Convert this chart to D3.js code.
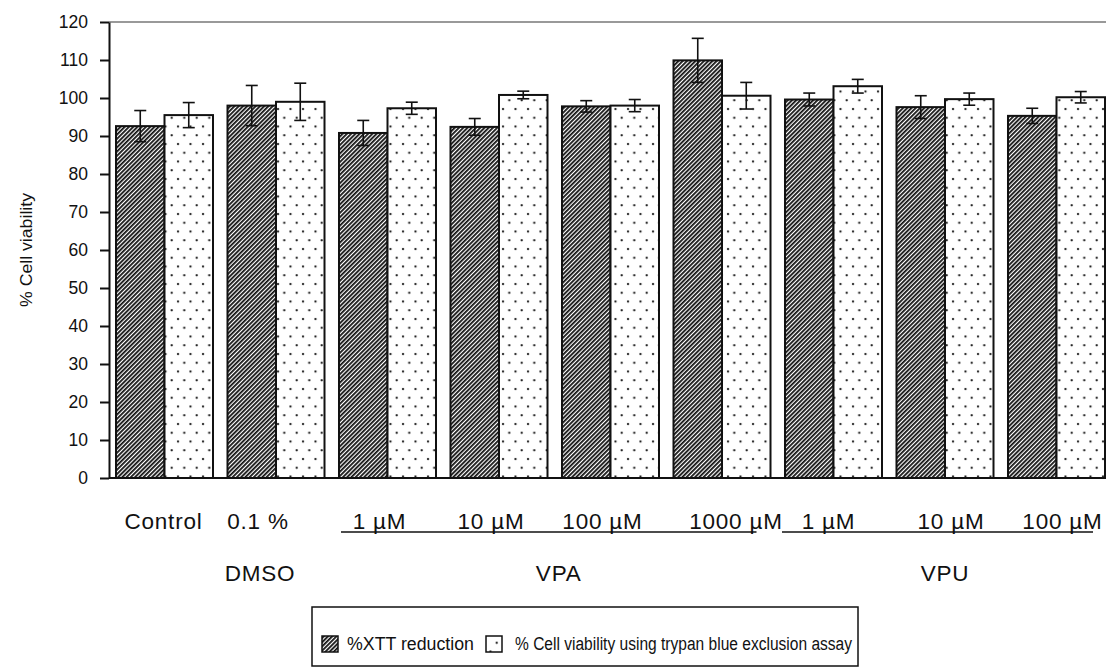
<!DOCTYPE html>
<html>
<head>
<meta charset="utf-8">
<script src="https://cdn.jsdelivr.net/npm/d3@7"></script>
<style>
  body { margin: 0; background: #fff; }
  text { font-family: "Liberation Sans", Arial, sans-serif; fill: #111; }
</style>
</head>
<body>
<svg id="chart" width="1106" height="668"></svg>
<script>
// values
var groups = ["Control", "0.1 %", "1 µM", "10 µM", "100 µM", "1000 µM", "1 µM", "10 µM", "100 µM"];
var xttMean = [92.6, 98.0, 90.8, 92.4, 97.8, 109.9, 99.6, 97.6, 95.3];
var xttErr = [4.1, 5.3, 3.3, 2.2, 1.5, 5.8, 1.7, 3.0, 2.0];
var trypanMean = [95.5, 99.0, 97.3, 100.8, 98.0, 100.6, 103.1, 99.7, 100.2];
var trypanErr = [3.3, 4.9, 1.6, 1.0, 1.6, 3.5, 1.8, 1.6, 1.5];
var yTicks = [0, 10, 20, 30, 40, 50, 60, 70, 80, 90, 100, 110, 120];
var treatments = ["DMSO", "VPA", "VPU"];
var treatmentFrom = [1, 2, 6];
var treatmentTo = [1, 5, 8];
var seriesNames = ["%XTT reduction", "% Cell viability using trypan blue exclusion assay"];

// small nudges so text sits where the original typesetter put it
var labelNudge = [-1, -18, -8, -8, -8, 14, -5, 6, 6];
var treatNudge = [-16, 4, 0];
var lineStart = [0, 2, -3], lineEnd = [0, -14, -12];

var svg = d3.select("#chart");
var defs = svg.append("defs");

// hatch fill
defs.append("pattern")
    .attr("id", "hatch")
    .attr("patternUnits", "userSpaceOnUse")
    .attr("width", 3).attr("height", 3)
    .attr("patternTransform", "rotate(45)")
  .append("rect")
    .attr("x", 0).attr("y", 0)
    .attr("width", 1.8).attr("height", 3)
    .attr("fill", "#111");

// dot fill
var dots = defs.append("pattern")
    .attr("id", "dots")
    .attr("patternUnits", "userSpaceOnUse")
    .attr("width", 12.5).attr("height", 17.5);
dots.append("rect").attr("width", 12.5).attr("height", 17.5).attr("fill", "#fff");
dots.append("circle").attr("cx", 3).attr("cy", 4).attr("r", 1.15).attr("fill", "#111");
dots.append("circle").attr("cx", 9.25).attr("cy", 12.75).attr("r", 1.15).attr("fill", "#111");

var x = d3.scaleBand()
    .domain(d3.range(groups.length))
    .range([116, 1105])
    .paddingInner(0.13)
    .paddingOuter(0);

var xs = d3.scaleBand()
    .domain([0, 1])
    .range([0, x.bandwidth()]);

var y = d3.scaleLinear()
    .domain([0, 120])
    .range([478, 22]);

// top frame line (grey)
svg.append("line")
    .attr("x1", 109).attr("x2", 1106)
    .attr("y1", y(120)).attr("y2", y(120))
    .attr("stroke", "#777").attr("stroke-width", 1.5);

// y axis
var yAxis = svg.append("g")
    .attr("transform", "translate(109,0)")
    .call(d3.axisLeft(y).tickValues(yTicks).tickSize(9).tickSizeOuter(0).tickPadding(12));
yAxis.select(".domain").attr("stroke", "#111").attr("stroke-width", 2);
yAxis.selectAll(".tick line").attr("stroke", "#111").attr("stroke-width", 2);
yAxis.selectAll(".tick text")
    .style("font-family", "'Liberation Sans', Arial, sans-serif")
    .style("font-size", "17.5px")
    .attr("fill", "#111");

// baseline
svg.append("line")
    .attr("x1", 109).attr("x2", 1106)
    .attr("y1", y(0)).attr("y2", y(0))
    .attr("stroke", "#111").attr("stroke-width", 2);

svg.append("text")
    .attr("transform", "translate(28," + y(60) + ") rotate(-90)")
    .attr("text-anchor", "middle")
    .attr("dominant-baseline", "middle")
    .attr("textLength", 114)
    .attr("lengthAdjust", "spacingAndGlyphs")
    .style("font-size", "17px")
    .text("% Cell viability");

// bars
var series = [
  { mean: xttMean, err: xttErr, fill: "url(#hatch)" },
  { mean: trypanMean, err: trypanErr, fill: "url(#dots)" }
];

series.forEach(function(s, si) {
  var g = svg.append("g");
  g.selectAll("rect")
      .data(s.mean)
    .enter().append("rect")
      .attr("x", function(d, i) { return x(i) + xs(si); })
      .attr("y", function(d) { return y(d); })
      .attr("width", xs.bandwidth())
      .attr("height", function(d) { return y(0) - y(d); })
      .attr("fill", s.fill)
      .attr("stroke", "#111")
      .attr("stroke-width", 2);
});

// error bars on top
series.forEach(function(s, si) {
  var eb = svg.append("g").attr("stroke", "#111").attr("stroke-width", 1.6);
  s.mean.forEach(function(m, i) {
    var cx = x(i) + xs(si) + xs.bandwidth() / 2;
    var top = y(m + s.err[i]), bot = y(m - s.err[i]);
    eb.append("line").attr("x1", cx).attr("x2", cx).attr("y1", top).attr("y2", bot);
    eb.append("line").attr("x1", cx - 6).attr("x2", cx + 6).attr("y1", top).attr("y2", top);
    eb.append("line").attr("x1", cx - 6).attr("x2", cx + 6).attr("y1", bot).attr("y2", bot);
  });
});

// category labels
svg.append("g").selectAll("text")
    .data(groups)
  .enter().append("text")
    .attr("x", function(d, i) { return x(i) + x.bandwidth() / 2 + labelNudge[i]; })
    .attr("y", 529)
    .attr("text-anchor", "middle")
    .style("font-size", "22.5px")
    .style("letter-spacing", "0.8px")
    .text(function(d) { return d; });

// treatment underlines and names
treatments.forEach(function(t, i) {
  var a = x(treatmentFrom[i]), b = x(treatmentTo[i]) + x.bandwidth();
  if (treatmentTo[i] > treatmentFrom[i]) {
    svg.append("line")
        .attr("x1", a + lineStart[i]).attr("x2", b + lineEnd[i])
        .attr("y1", 532).attr("y2", 532)
        .attr("stroke", "#111").attr("stroke-width", 1.6);
  }
  svg.append("text")
      .attr("x", (a + b) / 2 + treatNudge[i])
      .attr("y", 581)
      .attr("text-anchor", "middle")
      .style("font-size", "22.5px")
      .style("letter-spacing", "0.8px")
      .text(t);
});

// legend
var lg = svg.append("g");
lg.append("rect")
    .attr("x", 312).attr("y", 607)
    .attr("width", 546).attr("height", 59)
    .attr("fill", "none").attr("stroke", "#111").attr("stroke-width", 1.5);

var legX = [322, 486], legTextX = [347, 515], legLen = [127, 337];
seriesNames.forEach(function(n, i) {
  lg.append("rect")
      .attr("x", legX[i]).attr("y", 636)
      .attr("width", 16).attr("height", 16)
      .attr("fill", series[i].fill)
      .attr("stroke", "#111").attr("stroke-width", 1.5);
  lg.append("text")
      .attr("x", legTextX[i]).attr("y", 650)
      .attr("textLength", legLen[i])
      .attr("lengthAdjust", "spacingAndGlyphs")
      .style("font-size", "18px")
      .text(n);
});
</script>
</body>
</html>
